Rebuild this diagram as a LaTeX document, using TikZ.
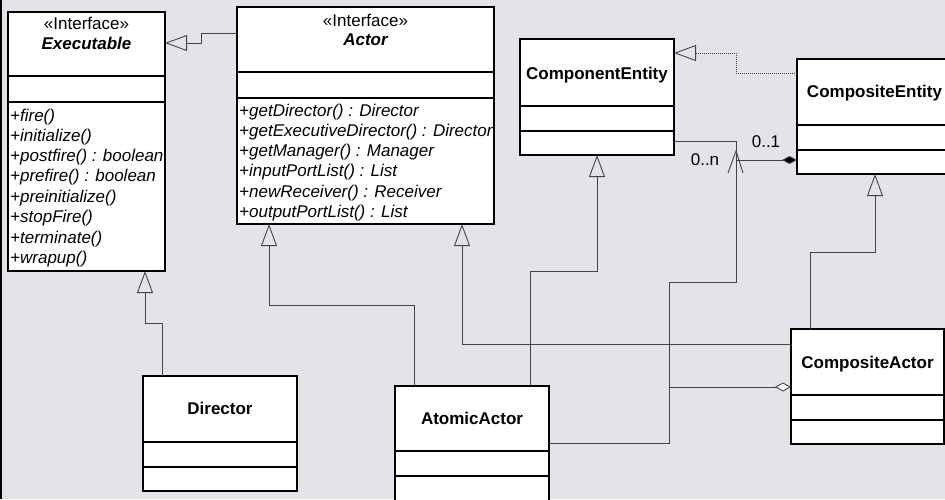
\documentclass[tikz,border=0pt]{standalone}
\usepackage{fontspec}
\setmainfont{Liberation Sans}
\usetikzlibrary{arrows.meta,calc}
\definecolor{bgc}{HTML}{E3E4E9}
\definecolor{lnc}{HTML}{444444}
\begin{document}
\begin{tikzpicture}[x=1pt,y=-1pt,
  box/.style={draw=black, line width=1.2pt, fill=white, anchor=north west, inner sep=0pt, outer sep=0pt},
  txt/.style={font=\fontsize{17}{20}\selectfont, inner sep=0pt, anchor=base},
  mth/.style={font=\fontsize{17}{20}\selectfont\itshape, inner sep=0pt, anchor=base west},
  ttl/.style={font=\fontsize{17}{20}\selectfont\bfseries, inner sep=0pt, anchor=base},
  ittl/.style={font=\fontsize{17}{20}\selectfont\bfseries\itshape, inner sep=0pt, anchor=base},
  conn/.style={draw=lnc, line width=0.9pt},
  gen/.style={conn, -{Triangle[open, length=22pt 0, width=16pt 0]}},
  real/.style={gen, dash pattern=on 1pt off 1pt},
  dv/.style={draw=black, line width=1.2pt}
]
\fill[bgc] (0,0) rectangle (945,499);
\useasboundingbox (0,0) rectangle (945,499);
\draw[black, line width=1.6pt] (0.8,0) -- (0.8,499);

% Executable
\node[box, minimum width=157pt, minimum height=259pt] (exe) at (8,12) {};
\draw[dv] ($(exe.north west)+(0,64)$) -- ++(157,0);
\draw[dv] ($(exe.north west)+(0,90)$) -- ++(157,0);
\node[txt] (exeS) at (86.5,29) {«Interface»};
\node[ittl] (exeN) at (86.5,49) {Executable};
\node[mth] (e1) at (10,121) {+fire()};
\node[mth] (e2) at (10,141) {+initialize()};
\node[mth] (e3) at (10,161) {+postfire() : boolean};
\node[mth] (e4) at (10,181) {+prefire() : boolean};
\node[mth] (e5) at (10,202) {+preinitialize()};
\node[mth] (e6) at (10,222) {+stopFire()};
\node[mth] (e7) at (10,243) {+terminate()};
\node[mth] (e8) at (10,263) {+wrapup()};

% Actor
\node[box, minimum width=257pt, minimum height=217pt] (act) at (237,7) {};
\draw[dv] ($(act.north west)+(0,65)$) -- ++(257,0);
\draw[dv] ($(act.north west)+(0,91)$) -- ++(257,0);
\node[txt] (actS) at (365.5,26) {«Interface»};
\node[ittl] (actN) at (365.5,45) {Actor};
\node[mth] (a1) at (239,116) {+getDirector() : Director};
\node[mth] (a2) at (239,136) {+getExecutiveDirector() : Director};
\node[mth] (a3) at (239,156) {+getManager() : Manager};
\node[mth] (a4) at (239,176) {+inputPortList() : List};
\node[mth] (a5) at (239,197) {+newReceiver() : Receiver};
\node[mth] (a6) at (239,217) {+outputPortList() : List};

% ComponentEntity
\node[box, minimum width=154pt, minimum height=116pt] (ce) at (520,39) {};
\draw[dv] ($(ce.north west)+(0,67)$) -- ++(154,0);
\draw[dv] ($(ce.north west)+(0,92)$) -- ++(154,0);
\node[ttl] (ceN) at (597,79) {ComponentEntity};

% CompositeEntity
\node[box, minimum width=155pt, minimum height=115pt] (cpe) at (797,59) {};
\draw[dv] ($(cpe.north west)+(0,66)$) -- ++(155,0);
\draw[dv] ($(cpe.north west)+(0,91)$) -- ++(155,0);
\node[ttl] (cpeN) at (874.5,97) {CompositeEntity};

% Director
\node[box, minimum width=154pt, minimum height=115pt] (dir) at (143,376) {};
\draw[dv] ($(dir.north west)+(0,66)$) -- ++(154,0);
\draw[dv] ($(dir.north west)+(0,91)$) -- ++(154,0);
\node[ttl] (dirN) at (220,414) {Director};

% AtomicActor
\node[box, minimum width=154pt, minimum height=120pt] (aa) at (395,386) {};
\draw[dv] ($(aa.north west)+(0,65)$) -- ++(154,0);
\draw[dv] ($(aa.north west)+(0,90)$) -- ++(154,0);
\node[ttl] (aaN) at (472,424) {AtomicActor};

% CompositeActor
\node[box, minimum width=153pt, minimum height=115pt] (ca) at (791,329) {};
\draw[dv] ($(ca.north west)+(0,66)$) -- ++(153,0);
\draw[dv] ($(ca.north west)+(0,91)$) -- ++(153,0);
\node[ttl] (caN) at (867.5,368) {CompositeActor};

% Generalizations
\draw[gen] ($(act.north west)+(0,26)$) -- ++(-36,0) |- ($(exe.north east)+(0,31)$);
\draw[gen] ($(dir.north west)+(19,0)$) -- ++(0,-53) -| ($(exe.south west)+(137,0)$);
\draw[gen] ($(aa.north west)+(19,0)$) -- ++(0,-81) -| ($(act.south west)+(32,0)$);
\draw[gen] ($(ca.north west)+(0,15)$) -| ($(act.south west)+(225,0)$);
\draw[gen] ($(aa.north west)+(135,0)$) -- ++(0,-115) -| (ce.south);
\draw[gen] ($(ca.north west)+(19,0)$) -- ++(0,-77) -| ($(cpe.south west)+(78,0)$);
\draw[real] ($(cpe.north west)+(0,14)$) -- ++(-61,0) |- ($(ce.north east)+(0,14)$);

% Associations
\draw[conn] ($(ce.south east)+(0,-14)$) -- ++(62,0) -- ++(0,141) -- ++(-67,0) |- ($(aa.north east)+(0,57)$);
\draw[conn, {Diamond[length=15pt 0, width=8pt 0, fill=black]}-] ($(cpe.north west)+(0,101)$) -- ++(-61,0);
\draw[conn] ($(ce.south east)+(54,18)$) -- ++(8,-22) -- ++(7,22);
\draw[conn, {Diamond[open, fill=white, length=16pt 0, width=9pt 0]}-] ($(ca.north west)+(0,58)$) -- ++(-122,0);

\node[txt] (m1) at (766,147) {0..1};
\node[txt] (mn) at (705,165) {0..n};
\end{tikzpicture}
\end{document}
